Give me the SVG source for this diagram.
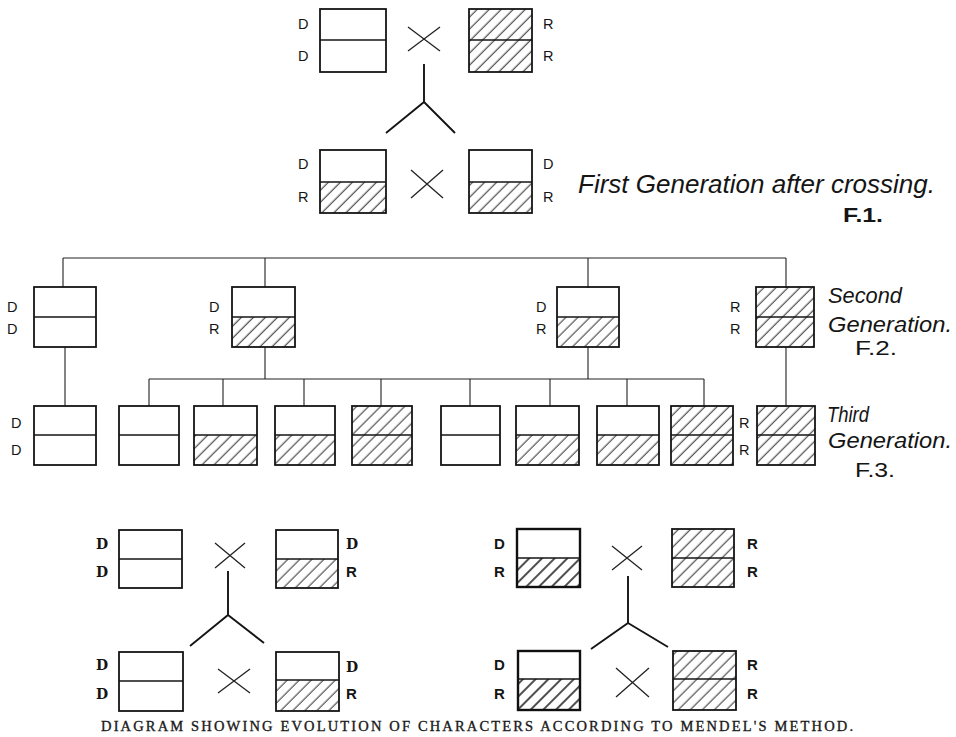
<svg xmlns="http://www.w3.org/2000/svg" width="956" height="737" viewBox="0 0 956 737">
<style>
.bx{fill:none;stroke:#151515;stroke-width:1.8}
.bxb{fill:none;stroke:#101010;stroke-width:2.4}
.mid{stroke:#151515;stroke-width:1.3}
.h{fill:url(#hatch);stroke:none}
.hb{fill:url(#hatchB);stroke:none}
.lbl{font-family:"Liberation Sans",Arial,sans-serif;font-size:14.5px;fill:#151515}
.lbs{font-family:"DejaVu Serif","Liberation Serif",serif;font-size:14px;font-weight:bold;fill:#151515}
.lbb{font-family:"Liberation Sans",Arial,sans-serif;font-size:15px;font-weight:bold;fill:#151515}
.ital{font-family:"Liberation Sans",Arial,sans-serif;font-style:italic;fill:#151515}
.fn{font-family:"Liberation Sans",Arial,sans-serif;fill:#151515}
.cap{font-family:"Liberation Serif","Times New Roman",serif;font-size:14.5px;fill:#1a1a1a;stroke:#1a1a1a;stroke-width:0.35}
.thin{stroke:#222;stroke-width:1.1;fill:none}
.cross{stroke:#222;stroke-width:1.3;fill:none}
.yc{stroke:#151515;stroke-width:1.9;fill:none}
</style>
<defs>
<pattern id="hatch" patternUnits="userSpaceOnUse" width="8.5" height="8.5" patternTransform="rotate(45)">
<line x1="4" y1="0" x2="4" y2="8.5" stroke="#2a2a2a" stroke-width="1"/>
</pattern>
<pattern id="hatchB" patternUnits="userSpaceOnUse" width="9" height="9" patternTransform="rotate(45)">
<line x1="4" y1="0" x2="4" y2="9" stroke="#151515" stroke-width="1.5"/>
</pattern>
</defs>
<rect x="0" y="0" width="956" height="737" fill="#fff"/>

<g id="connectors">
<path class="cross" d="M408,27 L440,51 M440,27 L408,51"/>
<path class="yc" d="M424,64 L424,102 L386,133 M424,102 L455,133"/>
<path class="cross" d="M411,170 L443,198 M443,170 L411,198"/>
<path class="thin" d="M63,258 L786,258 M63,258 L63,287 M265,258 L265,287 M588,258 L588,288 M786,258 L786,288"/>
<path class="thin" d="M65,347 L65,406 M786,347 L786,406 M265,347 L265,379 M588,347 L588,379 M149,379 L704,379"/>
<path class="thin" d="M149,379 L149,406 M223,379 L223,406 M304,379 L304,406 M381,379 L381,406 M470,379 L470,406 M550,379 L550,406 M627,379 L627,406 M704,379 L704,406"/>
<path class="cross" d="M215,543 L245,568 M245,543 L215,568"/>
<path class="yc" d="M228,571 L228,615 L190,646 M228,615 L264,643"/>
<path class="cross" d="M218,669 L250,693 M250,669 L218,693"/>
<path class="cross" d="M612,546 L642,570 M642,546 L612,570"/>
<path class="yc" d="M628,576 L628,623 L591,649 M628,623 L668,647"/>
<path class="cross" d="M616,668 L649,697 M649,668 L616,697"/>
</g>

<g id="p1">
<rect class="bx" x="320" y="9" width="66" height="63"/>
<line class="mid" x1="320" y1="40" x2="386" y2="40"/>
<text class="lbl" x="298" y="29">D</text>
<text class="lbl" x="298" y="61">D</text>
</g>
<g id="p2">
<rect class="h" x="469" y="9" width="63" height="63"/>
<rect class="bx" x="469" y="9" width="63" height="63"/>
<line class="mid" x1="469" y1="40" x2="532" y2="40"/>
<text class="lbl" x="543" y="29">R</text>
<text class="lbl" x="543" y="61">R</text>
</g>

<g id="f1a">
<rect class="h" x="320" y="182" width="66" height="31"/>
<rect class="bx" x="320" y="150" width="66" height="63"/>
<line class="mid" x1="320" y1="182" x2="386" y2="182"/>
<text class="lbl" x="298" y="169">D</text>
<text class="lbl" x="298" y="202">R</text>
</g>
<g id="f1b">
<rect class="h" x="469" y="182" width="63" height="31"/>
<rect class="bx" x="469" y="150" width="63" height="63"/>
<line class="mid" x1="469" y1="182" x2="532" y2="182"/>
<text class="lbl" x="543" y="169">D</text>
<text class="lbl" x="543" y="202">R</text>
</g>
<g id="label-f1">
<text class="ital" x="578" y="193" font-size="26" textLength="357" lengthAdjust="spacingAndGlyphs">First Generation after crossing.</text>
<text class="fn" x="843" y="222" font-size="21" font-weight="bold" textLength="40" lengthAdjust="spacingAndGlyphs">F.1.</text>
</g>

<g id="g2a">
<rect class="bx" x="34" y="287" width="62" height="60"/>
<line class="mid" x1="34" y1="317" x2="96" y2="317"/>
<text class="lbl" x="7" y="312">D</text>
<text class="lbl" x="7" y="334">D</text>
</g>
<g id="g2b">
<rect class="h" x="232" y="317" width="63" height="30"/>
<rect class="bx" x="232" y="287" width="63" height="60"/>
<line class="mid" x1="232" y1="317" x2="295" y2="317"/>
<text class="lbl" x="209" y="312">D</text>
<text class="lbl" x="209" y="334">R</text>
</g>
<g id="g2c">
<rect class="h" x="557" y="317" width="62" height="30"/>
<rect class="bx" x="557" y="287" width="62" height="60"/>
<line class="mid" x1="557" y1="317" x2="619" y2="317"/>
<text class="lbl" x="536" y="312">D</text>
<text class="lbl" x="536" y="334">R</text>
</g>
<g id="g2d">
<rect class="h" x="756" y="287" width="58" height="60"/>
<rect class="bx" x="756" y="287" width="58" height="60"/>
<line class="mid" x1="756" y1="317" x2="814" y2="317"/>
<text class="lbl" x="730" y="312">R</text>
<text class="lbl" x="730" y="334">R</text>
</g>
<g id="label-f2">
<text class="ital" x="828" y="303" font-size="22" textLength="74" lengthAdjust="spacingAndGlyphs">Second</text>
<text class="ital" x="828" y="332" font-size="22" textLength="124" lengthAdjust="spacingAndGlyphs">Generation.</text>
<text class="fn" x="855" y="355" font-size="20" textLength="42" lengthAdjust="spacingAndGlyphs">F.2.</text>
</g>

<g id="h1">
<rect class="bx" x="34" y="406" width="62" height="59"/>
<line class="mid" x1="34" y1="435" x2="96" y2="435"/>
<text class="lbl" x="11" y="428">D</text>
<text class="lbl" x="11" y="455">D</text>
</g>
<g id="h2">
<rect class="bx" x="119" y="406" width="60" height="59"/>
<line class="mid" x1="119" y1="435" x2="179" y2="435"/>
</g>
<g id="h3">
<rect class="h" x="194" y="435" width="63" height="30"/>
<rect class="bx" x="194" y="406" width="63" height="59"/>
<line class="mid" x1="194" y1="435" x2="257" y2="435"/>
</g>
<g id="h4">
<rect class="h" x="275" y="435" width="60" height="30"/>
<rect class="bx" x="275" y="406" width="60" height="59"/>
<line class="mid" x1="275" y1="435" x2="335" y2="435"/>
</g>
<g id="h5">
<rect class="h" x="352" y="406" width="60" height="59"/>
<rect class="bx" x="352" y="406" width="60" height="59"/>
<line class="mid" x1="352" y1="435" x2="412" y2="435"/>
</g>
<g id="h6">
<rect class="bx" x="441" y="406" width="59" height="59"/>
<line class="mid" x1="441" y1="435" x2="500" y2="435"/>
</g>
<g id="h7">
<rect class="h" x="516" y="435" width="63" height="30"/>
<rect class="bx" x="516" y="406" width="63" height="59"/>
<line class="mid" x1="516" y1="435" x2="579" y2="435"/>
</g>
<g id="h8">
<rect class="h" x="597" y="435" width="62" height="30"/>
<rect class="bx" x="597" y="406" width="62" height="59"/>
<line class="mid" x1="597" y1="435" x2="659" y2="435"/>
</g>
<g id="h9">
<rect class="h" x="671" y="406" width="62" height="59"/>
<rect class="bx" x="671" y="406" width="62" height="59"/>
<line class="mid" x1="671" y1="435" x2="733" y2="435"/>
</g>
<g id="h10">
<rect class="h" x="757" y="406" width="58" height="59"/>
<rect class="bx" x="757" y="406" width="58" height="59"/>
<line class="mid" x1="757" y1="435" x2="815" y2="435"/>
<text class="lbl" x="739" y="428">R</text>
<text class="lbl" x="739" y="455">R</text>
</g>
<g id="label-f3">
<text class="ital" x="827" y="422" font-size="22" textLength="42" lengthAdjust="spacingAndGlyphs">Third</text>
<text class="ital" x="828" y="448" font-size="22" textLength="124" lengthAdjust="spacingAndGlyphs">Generation.</text>
<text class="fn" x="855" y="477" font-size="20" textLength="40" lengthAdjust="spacingAndGlyphs">F.3.</text>
</g>

<g id="b1">
<rect class="bx" x="119" y="530" width="63" height="58"/>
<line class="mid" x1="119" y1="559" x2="182" y2="559"/>
<text class="lbs" x="96" y="549">D</text>
<text class="lbs" x="96" y="577">D</text>
</g>
<g id="b2">
<rect class="h" x="276" y="559" width="62" height="29"/>
<rect class="bx" x="276" y="530" width="62" height="58"/>
<line class="mid" x1="276" y1="559" x2="338" y2="559"/>
<text class="lbs" x="346" y="549">D</text>
<text class="lbb" x="346" y="577">R</text>
</g>
<g id="b3">
<rect class="bx" x="119" y="652" width="64" height="59"/>
<line class="mid" x1="119" y1="681" x2="183" y2="681"/>
<text class="lbs" x="96" y="670">D</text>
<text class="lbs" x="96" y="699">D</text>
</g>
<g id="b4">
<rect class="h" x="276" y="680" width="63" height="31"/>
<rect class="bx" x="276" y="652" width="63" height="59"/>
<line class="mid" x1="276" y1="680" x2="339" y2="680"/>
<text class="lbs" x="346" y="672">D</text>
<text class="lbb" x="346" y="699">R</text>
</g>

<g id="c1">
<rect class="hb" x="517" y="558" width="63" height="29"/>
<rect class="bxb" x="517" y="529" width="63" height="58"/>
<line class="mid" x1="517" y1="558" x2="580" y2="558"/>
<text class="lbb" x="494" y="549">D</text>
<text class="lbb" x="494" y="577">R</text>
</g>
<g id="c2">
<rect class="h" x="672" y="529" width="62" height="58"/>
<rect class="bx" x="672" y="529" width="62" height="58"/>
<line class="mid" x1="672" y1="558" x2="734" y2="558"/>
<text class="lbb" x="747" y="549">R</text>
<text class="lbb" x="747" y="577">R</text>
</g>
<g id="c3">
<rect class="hb" x="518" y="679" width="62" height="31"/>
<rect class="bxb" x="518" y="651" width="62" height="59"/>
<line class="mid" x1="518" y1="679" x2="580" y2="679"/>
<text class="lbb" x="494" y="670">D</text>
<text class="lbb" x="494" y="699">R</text>
</g>
<g id="c4">
<rect class="h" x="673" y="651" width="63" height="59"/>
<rect class="bx" x="673" y="651" width="63" height="59"/>
<line class="mid" x1="673" y1="679" x2="736" y2="679"/>
<text class="lbb" x="747" y="670">R</text>
<text class="lbb" x="747" y="699">R</text>
</g>

<g id="caption">
<text class="cap" x="101" y="731" textLength="752" lengthAdjust="spacing">DIAGRAM SHOWING EVOLUTION OF CHARACTERS ACCORDING TO MENDEL'S METHOD.</text>
</g>
</svg>
